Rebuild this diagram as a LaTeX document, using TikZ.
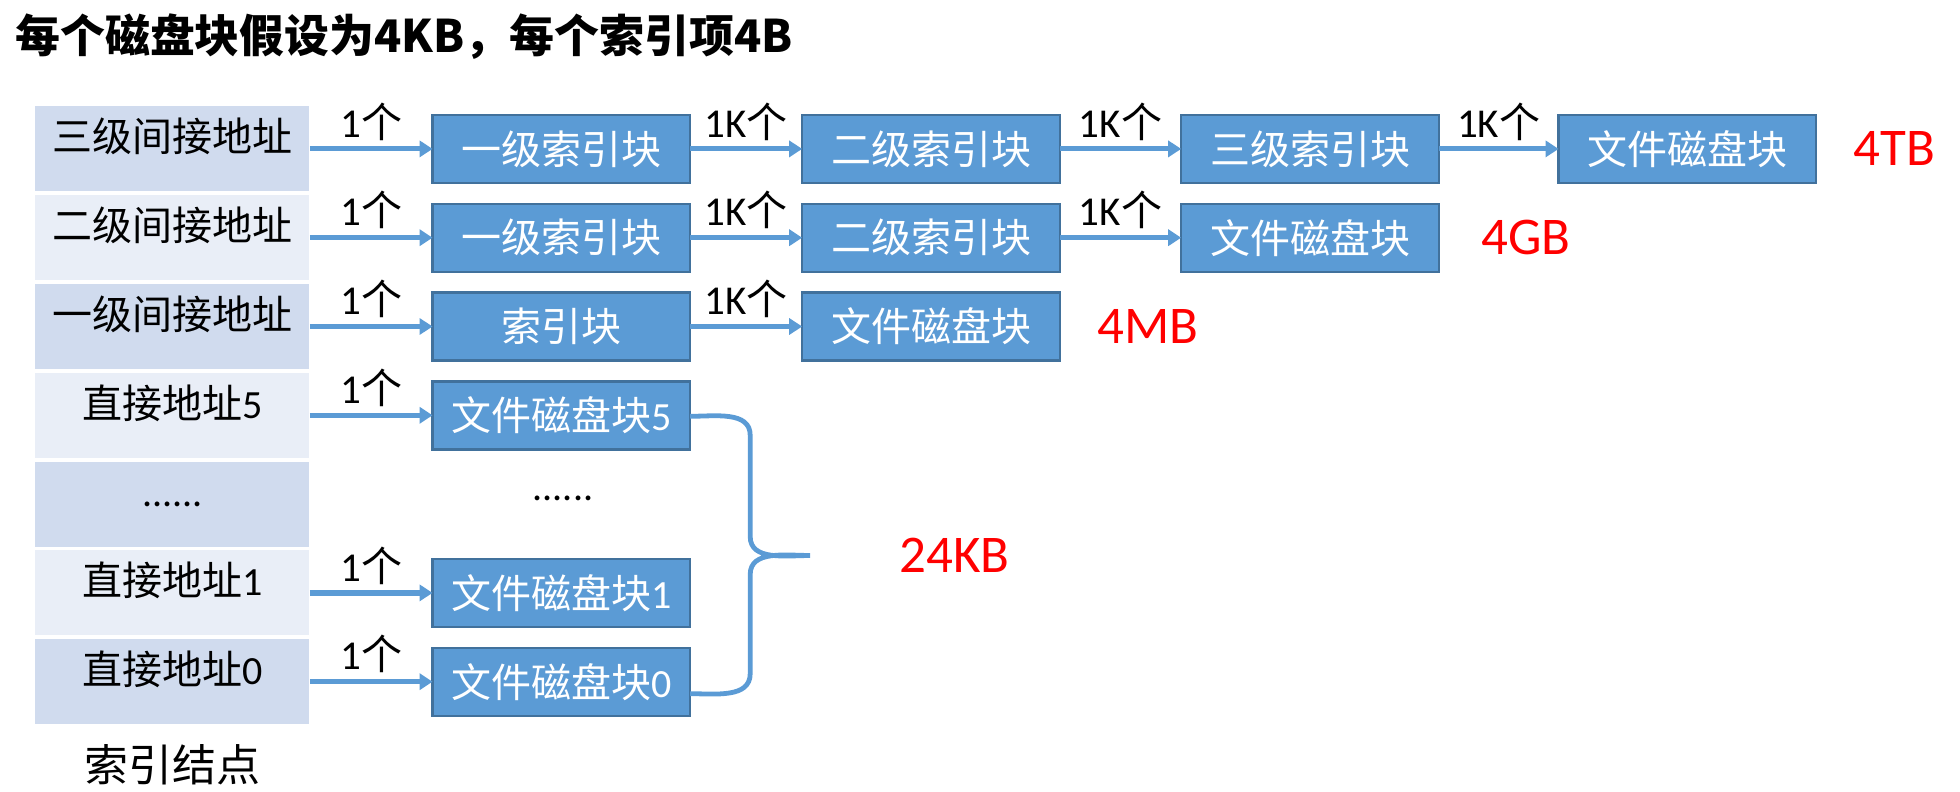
\documentclass[tikz,border=0pt]{standalone}
\usepackage{fontspec}
\setmainfont{Carlito}
\newfontfamily\cjk{Noto Sans CJK SC}
\usepackage{xcolor}
\usetikzlibrary{arrows.meta,positioning,calc}
\definecolor{blkfill}{HTML}{5B9BD5}
\definecolor{blkdraw}{HTML}{41719C}
\definecolor{rowdark}{HTML}{D0DBEE}
\definecolor{rowlight}{HTML}{E9EEF7}
\newcommand{\onelbl}{1{\cjk 个}}
\newcommand{\kilolbl}{1K{\cjk 个}}
\tikzset{
	slot/.style={inner sep=0pt, minimum width=137pt, minimum height=42.5pt,
		text height=22.6pt, text depth=19.9pt, font=\fontsize{20pt}{24pt}\selectfont},
	blk/.style={draw=blkdraw, fill=blkfill, line width=1.2pt, text=white, inner sep=0pt,
		outer sep=0pt, minimum width=128.8pt, minimum height=34pt,
		font=\fontsize{20pt}{24pt}\selectfont},
	link/.style={-{Triangle[length=6.5pt,width=8pt]}, draw=blkfill, line width=2.6pt},
	cnt/.style={midway, above=3pt, inner sep=0pt, font=\fontsize{20.5pt}{24pt}\selectfont},
	sumlbl/.style={text=red, inner sep=0pt, font=\fontsize{26.5pt}{31pt}\selectfont}
}

\begin{document}
\begin{tikzpicture}[
	brace/.style={draw=blkfill, line width=2.4pt},
	]
	\useasboundingbox (0,0) rectangle (980pt,-396pt);
	
	%% -- Title
	\node[anchor=west, inner sep=0pt, font=\fontsize{22.45pt}{26pt}\selectfont\cjk\bfseries]
	(ttl) at (7.5pt,-18.5pt) {每个磁盘块假设为4KB，每个索引项4B};
	
	%% -- Index node cells
	\node[slot, fill=rowdark, anchor=north west] (c1) at (17.5pt,-53pt) {\cjk 三级间接地址};
	\node[slot, fill=rowlight, below=1.5pt of c1] (c2) {\cjk 二级间接地址};
	\node[slot, fill=rowdark, below=1.5pt of c2] (c3) {\cjk 一级间接地址};
	\node[slot, fill=rowlight, below=1.5pt of c3] (c4) {{\cjk 直接地址}5};
	\node[slot, fill=rowdark, below=1.5pt of c4] (c5) {......};
	\node[slot, fill=rowlight, below=1.5pt of c5] (c6) {{\cjk 直接地址}1};
	\node[slot, fill=rowdark, below=1.5pt of c6] (c7) {{\cjk 直接地址}0};
	
	\node[below=9.5pt of c7, inner sep=0pt, font=\fontsize{22pt}{26pt}\selectfont\cjk]
	(inode) {索引结点};
	
	%% -- Triple indirect
	\node[blk, right=61.4pt of c1] (b11) {\cjk 一级索引块};
	\node[blk, right=56pt of b11] (b12) {\cjk 二级索引块};
	\node[blk, right=60.7pt of b12] (b13) {\cjk 三级索引块};
	\node[blk, right=59.9pt of b13] (b14) {\cjk 文件磁盘块};
	\node[sumlbl, right=18.5pt of b14] (tb) {4TB};
	
	%% -- Double indirect
	\node[blk, right=61.4pt of c2] (b21) {\cjk 一级索引块};
	\node[blk, right=56pt of b21] (b22) {\cjk 二级索引块};
	\node[blk, right=60.7pt of b22] (b23) {\cjk 文件磁盘块};
	\node[sumlbl, right=21pt of b23] (gb) {4GB};
	
	%% -- Single indirect
	\node[blk, right=61.4pt of c3] (b31) {\cjk 索引块};
	\node[blk, right=56pt of b31] (b32) {\cjk 文件磁盘块};
	\node[sumlbl, right=18.5pt of b32] (mb) {4MB};
	
	%% -- Direct blocks
	\node[blk, right=61.4pt of c4] (f5) {{\cjk 文件磁盘块}5};
	\node[slot, minimum width=130pt, right=61.4pt of c5, yshift=3pt] (d5) {......};
	\node[blk, right=61.4pt of c6] (f1) {{\cjk 文件磁盘块}1};
	\node[blk, right=61.4pt of c7] (f0) {{\cjk 文件磁盘块}0};
	
	%% -- Pointers
	\draw[link] (c1) -- (b11) node[cnt] {\onelbl};
	\draw[link] (b11) -- (b12) node[cnt] {\kilolbl};
	\draw[link] (b12) -- (b13) node[cnt] {\kilolbl};
	\draw[link] (b13) -- (b14) node[cnt] {\kilolbl};
	
	\draw[link] (c2) -- (b21) node[cnt] {\onelbl};
	\draw[link] (b21) -- (b22) node[cnt] {\kilolbl};
	\draw[link] (b22) -- (b23) node[cnt] {\kilolbl};
	
	\draw[link] (c3) -- (b31) node[cnt] {\onelbl};
	\draw[link] (b31) -- (b32) node[cnt] {\kilolbl};
	
	\draw[link] (c4) -- (f5) node[cnt] {\onelbl};
	\draw[link] (c6) -- (f1) node[cnt] {\onelbl};
	\draw[link] (c7) -- (f0) node[cnt] {\onelbl};
	
	%% -- Brace over direct blocks
	\coordinate (bt) at ([yshift=-0.5pt]f5.east);
	\coordinate (bb) at ([yshift=-6pt]f0.east);
	\coordinate (tip) at ($(f5.east)!0.5!(f0.east) + (60pt,-3.5pt)$);
	\draw[brace] (bt) to[out=0,in=90] ([xshift=30pt,yshift=-9.5pt]bt)
	-- ([xshift=-30pt,yshift=9.5pt]tip) to[out=-90,in=180] (tip)
	to[out=180,in=90] ([xshift=-30pt,yshift=-9.5pt]tip)
	-- ([xshift=30pt,yshift=10pt]bb) to[out=-90,in=0] (bb);
	\node[sumlbl, right=44.5pt of tip] (kb) {24KB};
	
\end{tikzpicture}
\end{document}
